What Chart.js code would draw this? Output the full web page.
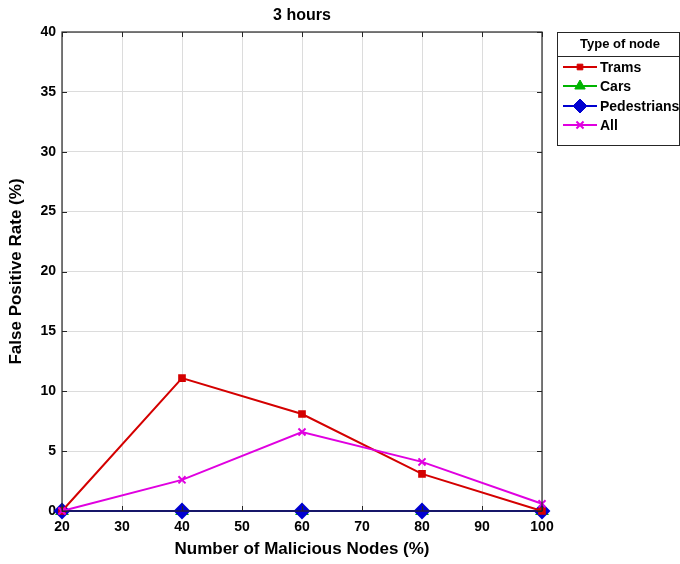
<!DOCTYPE html>
<html>
<head>
<meta charset="utf-8">
<script src="https://cdn.jsdelivr.net/npm/chart.js@4"></script>
<style>
  html, body { margin: 0; padding: 0; background: #fff; }
  #wrap { width: 680px; height: 564px; }
</style>
</head>
<body>
<div id="wrap"><canvas id="fprChart" width="680" height="564"></canvas></div>
<script>
const maliciousPct = [20, 40, 60, 80, 100];
const trams = [0, 11.1, 8.1, 3.1, 0];
const cars = [0, 0, 0, 0, 0];
const pedestrians = [0, 0, 0, 0, 0];
const allNodes = [0, 2.6, 6.6, 4.1, 0.6];
const xTicks = [20, 30, 40, 50, 60, 70, 80, 90, 100];
const yTicks = [0, 5, 10, 15, 20, 25, 30, 35, 40];

const FONT = "'Liberation Sans', Arial, sans-serif";

function toPoints(values) {
    return values.map((v, i) => ({ x: maliciousPct[i], y: v }));
}

// title, box around the axes and the boxed legend on the right
function drawFrame(chart) {
    const ctx = chart.ctx;
    const a = chart.chartArea;
    ctx.save();

    // inward tick marks
    ctx.strokeStyle = "#262626";
    ctx.lineWidth = 1;
    const xs = chart.scales.x, ys = chart.scales.y;
    xTicks.forEach(t => {
        const px = Math.round(xs.getPixelForValue(t)) + 0.5;
        ctx.beginPath();
        ctx.moveTo(px, a.bottom); ctx.lineTo(px, a.bottom - 5);
        ctx.moveTo(px, a.top); ctx.lineTo(px, a.top + 5);
        ctx.stroke();
    });
    yTicks.forEach(t => {
        const py = Math.round(ys.getPixelForValue(t)) + 0.5;
        ctx.beginPath();
        ctx.moveTo(a.left, py); ctx.lineTo(a.left + 5, py);
        ctx.moveTo(a.right, py); ctx.lineTo(a.right - 5, py);
        ctx.stroke();
    });

    ctx.lineWidth = 1.2;
    ctx.strokeRect(a.left, a.top, a.right - a.left, a.bottom - a.top);

    ctx.fillStyle = "#000";
    ctx.font = "bold 16px " + FONT;
    ctx.textAlign = "center";
    ctx.textBaseline = "middle";
    ctx.fillText("3 hours", (a.left + a.right) / 2, 16);

    // legend
    const lx = 557, ly = 32, lw = 122, lh = 113;
    ctx.fillStyle = "#fff";
    ctx.fillRect(lx, ly, lw, lh);
    ctx.strokeStyle = "#262626";
    ctx.lineWidth = 1;
    ctx.strokeRect(lx + 0.5, ly + 0.5, lw, lh);
    ctx.beginPath();
    ctx.moveTo(lx, ly + 24.5); ctx.lineTo(lx + lw, ly + 24.5);
    ctx.stroke();
    ctx.fillStyle = "#000";
    ctx.font = "bold 13px " + FONT;
    ctx.fillText("Type of node", lx + lw / 2 + 2, ly + 12);

    const rows = [67, 86, 106, 125];
    chart.data.datasets.forEach((ds, i) => {
        const y = rows[i];
        ctx.strokeStyle = ds.borderColor;
        ctx.lineWidth = 2;
        ctx.beginPath();
        ctx.moveTo(563, y); ctx.lineTo(597, y);
        ctx.stroke();
        ctx.fillStyle = ds.backgroundColor;
        ctx.lineWidth = ds.pointBorderWidth || 1;
        Chart.helpers.drawPoint(ctx, {
            pointStyle: ds.pointStyle,
            radius: ds.pointRadius,
            rotation: 0,
            borderWidth: ds.pointBorderWidth || 1
        }, 580, y);
        ctx.fillStyle = "#000";
        ctx.font = "bold 14px " + FONT;
        ctx.textAlign = "left";
        ctx.fillText(ds.label, 600, y + 1);
        ctx.textAlign = "center";
    });
    ctx.restore();
}

new Chart(document.getElementById("fprChart"), {
    type: "line",
    data: {
        datasets: [
            {
                label: "Trams",
                data: toPoints(trams),
                borderColor: "#d40000",
                backgroundColor: "#d40000",
                pointStyle: "rect",
                pointRadius: 4,
                borderWidth: 2,
                clip: false,
                order: 2
            },
            {
                label: "Cars",
                data: toPoints(cars),
                borderColor: "#00b400",
                backgroundColor: "#00b400",
                pointStyle: "triangle",
                pointRadius: 6,
                borderWidth: 2,
                clip: false,
                order: 4
            },
            {
                label: "Pedestrians",
                data: toPoints(pedestrians),
                borderColor: "#0000d0",
                backgroundColor: "#0000d0",
                pointStyle: "rectRot",
                pointRadius: 7,
                borderWidth: 2,
                clip: false,
                order: 3
            },
            {
                label: "All",
                data: toPoints(allNodes),
                borderColor: "#e000e0",
                backgroundColor: "#e000e0",
                pointStyle: "crossRot",
                pointRadius: 5,
                pointBorderWidth: 2,
                borderWidth: 2,
                clip: false,
                order: 1
            }
        ]
    },
    options: {
        responsive: false,
        animation: false,
        layout: { padding: { top: 32, right: 138, left: 0, bottom: 0 } },
        plugins: {
            legend: { display: false },
            title: { display: false },
            tooltip: { enabled: false }
        },
        elements: { line: { tension: 0 } },
        scales: {
            x: {
                type: "linear",
                min: 20,
                max: 100,
                afterBuildTicks: s => { s.ticks = xTicks.map(v => ({ value: v })); },
                afterFit: s => { s.height = 53; },
                grid: { color: "#dcdcdc", tickLength: 0, drawTicks: false },
                border: { display: false },
                ticks: {
                    color: "#000",
                    padding: 8,
                    font: { family: FONT, size: 14, weight: "bold" }
                },
                title: {
                    display: true,
                    text: "Number of Malicious Nodes (%)",
                    color: "#000",
                    padding: { top: 2, bottom: 4 },
                    font: { family: FONT, size: 17, weight: "bold" }
                }
            },
            y: {
                min: 0,
                max: 40,
                afterBuildTicks: s => { s.ticks = yTicks.map(v => ({ value: v })); },
                afterFit: s => { s.width = 62; },
                grid: { color: "#dcdcdc", tickLength: 0, drawTicks: false },
                border: { display: false },
                ticks: {
                    color: "#000",
                    padding: 6,
                    font: { family: FONT, size: 14, weight: "bold" }
                },
                title: {
                    display: true,
                    text: "False Positive Rate (%)",
                    color: "#000",
                    padding: { top: 6, bottom: 8 },
                    font: { family: FONT, size: 17, weight: "bold" }
                }
            }
        }
    },
    plugins: [{
        id: "frame",
        afterDraw: drawFrame
    }]
});
</script>
</body>
</html>
